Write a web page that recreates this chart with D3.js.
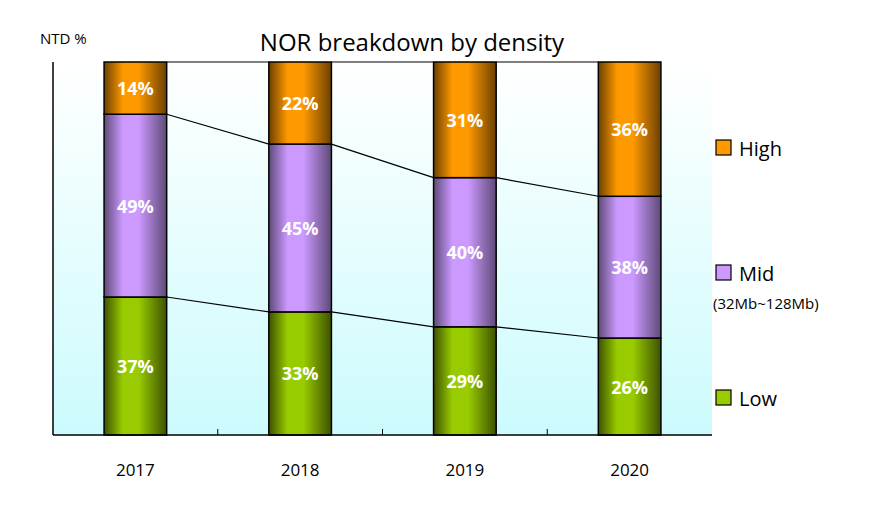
<!DOCTYPE html>
<html><head><meta charset="utf-8">
<script src="https://cdn.jsdelivr.net/npm/d3@7"></script>
<style>body{margin:0;background:#fff}text{font-family:"Open Sans",sans-serif}</style>
</head><body><svg id="chart" width="877" height="512"></svg>
<script>
const years = ["2017", "2018", "2019", "2020"];
const low = [37, 33, 29, 26];
const mid = [49, 45, 40, 38];
const high = [14, 22, 31, 36];
const seriesNames = ["Low", "Mid", "High"];

const svg = d3.select("#chart");
const pLeft = 53, pRight = 712, pTop = 62, pBottom = 435;
const x = d3.scaleBand().domain(years).range([pLeft, pRight]).paddingInner(0.62).paddingOuter(0.31);
const y = d3.scaleLinear().domain([0, 100]).range([pBottom, pTop]);

const defs = svg.append("defs");
const bg = defs.append("linearGradient").attr("id", "bg").attr("x1", 0).attr("y1", 0).attr("x2", 0).attr("y2", 1);
bg.append("stop").attr("offset", 0).attr("stop-color", "#ffffff");
bg.append("stop").attr("offset", 1).attr("stop-color", "#ccfbfd");
const colors = {Low: ["#3d5200", "#99cc00"], Mid: ["#5e4a78", "#cc99ff"], High: ["#6b4000", "#ff9900"]};
seriesNames.forEach(n => {
  const g = defs.append("linearGradient").attr("id", "g" + n);
  g.append("stop").attr("offset", 0).attr("stop-color", colors[n][0]);
  g.append("stop").attr("offset", 0.3).attr("stop-color", colors[n][1]);
  g.append("stop").attr("offset", 0.55).attr("stop-color", colors[n][1]);
  g.append("stop").attr("offset", 1).attr("stop-color", colors[n][0]);
});

svg.append("rect").attr("x", pLeft).attr("y", pTop).attr("width", pRight - pLeft).attr("height", pBottom - pTop).attr("fill", "url(#bg)");

const rows = years.map((yr, i) => ({year: yr, Low: low[i], Mid: mid[i], High: high[i]}));
const stacked = d3.stack().keys(seriesNames)(rows);

// connector lines
[0, 1].forEach(k => {
  for (let i = 0; i < years.length - 1; i++) {
    svg.append("line")
      .attr("x1", x(years[i]) + x.bandwidth()).attr("y1", y(stacked[k][i][1]))
      .attr("x2", x(years[i + 1])).attr("y2", y(stacked[k][i + 1][1]))
      .attr("stroke", "#000").attr("stroke-width", 1.2);
  }
});
for (let i = 0; i < years.length - 1; i++) {
  svg.append("line").attr("x1", x(years[i]) + x.bandwidth()).attr("x2", x(years[i + 1]))
    .attr("y1", y(100)).attr("y2", y(100)).attr("stroke", "#000").attr("stroke-width", 1.2);
}

stacked.forEach(s => {
  const g = svg.append("g");
  g.selectAll("rect").data(s).join("rect")
    .attr("x", d => x(d.data.year)).attr("width", x.bandwidth())
    .attr("y", d => y(d[1])).attr("height", d => y(d[0]) - y(d[1]))
    .attr("fill", "url(#g" + s.key + ")").attr("stroke", "#000").attr("stroke-width", 1.5);
  g.selectAll("text").data(s).join("text")
    .attr("x", d => x(d.data.year) + x.bandwidth() / 2)
    .attr("y", d => (y(d[0]) + y(d[1])) / 2 + 7)
    .attr("text-anchor", "middle").attr("fill", "#fff").attr("font-weight", "bold").attr("font-size", 18)
    .text(d => (d[1] - d[0]) + "%");
});

// axes
svg.append("line").attr("x1", pLeft).attr("x2", pLeft).attr("y1", pTop).attr("y2", pBottom).attr("stroke", "#000").attr("stroke-width", 1.5);
svg.append("line").attr("x1", pLeft).attr("x2", pRight).attr("y1", pBottom).attr("y2", pBottom).attr("stroke", "#000").attr("stroke-width", 1.5);
for (let i = 1; i < years.length; i++) {
  const tx = x(years[i]) - x.step() * x.paddingInner() / 2;
  svg.append("line").attr("x1", tx).attr("x2", tx).attr("y1", pBottom - 6).attr("y2", pBottom).attr("stroke", "#000");
}
svg.selectAll(".yl").data(years).join("text")
  .attr("x", d => x(d) + x.bandwidth() / 2).attr("y", 476).attr("text-anchor", "middle")
  .attr("font-size", 17).attr("fill", "#000").text(d => d);

svg.append("text").attr("x", 40).attr("y", 44).attr("font-size", 15).text("NTD %");
svg.append("text").attr("x", 412).attr("y", 51).attr("text-anchor", "middle").attr("font-size", 24).text("NOR breakdown by density");

// legend
const legend = [{k: "High", y: 148}, {k: "Mid", y: 273}, {k: "Low", y: 398}];
legend.forEach(l => {
  svg.append("rect").attr("x", 716).attr("y", l.y - 8).attr("width", 15).attr("height", 15)
    .attr("fill", colors[l.k][1]).attr("stroke", "#000").attr("stroke-width", 1.2);
  svg.append("text").attr("x", 739).attr("y", l.y + 8).attr("font-size", 20).text(l.k);
});
svg.append("text").attr("x", 713).attr("y", 309).attr("font-size", 15).text("(32Mb~128Mb)");
</script></body></html>
